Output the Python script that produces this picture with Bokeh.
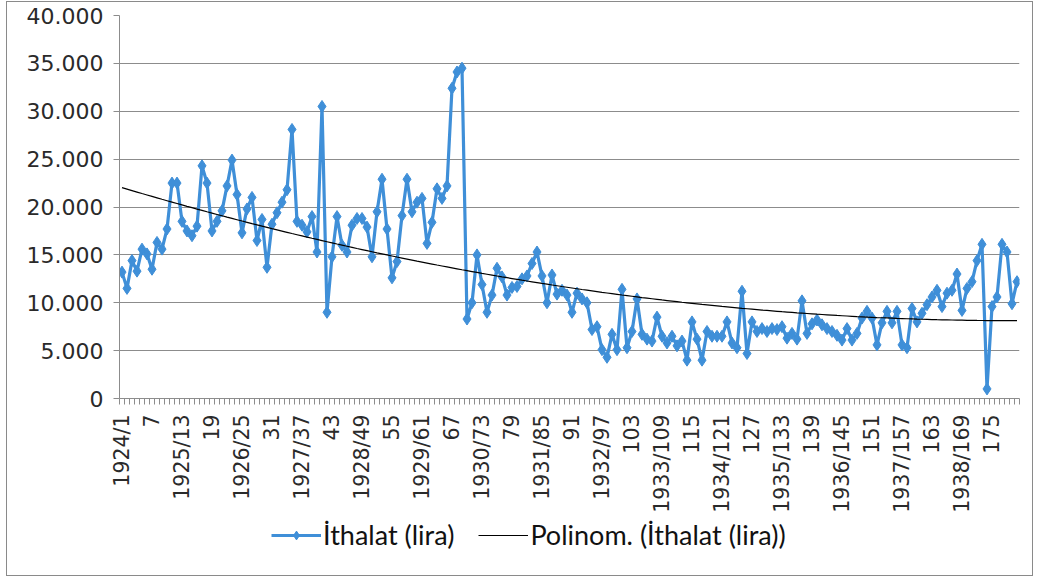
import math
import numpy as np
from bokeh.plotting import figure
from bokeh.layouts import column
from bokeh.models import Range1d, FixedTicker, Legend, LegendItem
from bokeh.embed import file_html
from bokeh.resources import INLINE

# ---- data ----
months = list(range(1, 181))
imports_lira = [
    13200, 11500, 14400, 13300, 15600, 15100, 13500, 16300, 15600, 17700,
    22500, 22500, 18500, 17500, 17000, 18000, 24300, 22500, 17500, 18500,
    19600, 22200, 24900, 21300, 17300, 19800, 21000, 16500, 18700, 13700,
    18200, 19400, 20500, 21800, 28100, 18500, 18100, 17400, 19000, 15300,
    30500, 9000, 14800, 19000, 16000, 15300, 18100, 18800, 18800, 17900,
    14800, 19500, 22900, 17700, 12600, 14300, 19100, 22900, 19500, 20500,
    20900, 16200, 18400, 21900, 20900, 22200, 32400, 34100, 34500, 8300,
    10000, 15000, 11900, 9000, 10800, 13600, 12700, 10800, 11600, 11700,
    12500, 12800, 14100, 15300, 12800, 10000, 12900, 10900, 11300, 10800,
    9000, 11000, 10400, 10000, 7200, 7500, 5100, 4300, 6700, 5100,
    11400, 5300, 7000, 10400, 6700, 6200, 6000, 8500, 6500, 5800,
    6500, 5500, 6000, 4000, 8000, 6200, 4000, 7000, 6500, 6500,
    6500, 8000, 5800, 5300, 11200, 4700, 8000, 7000, 7300, 7000,
    7300, 7200, 7500, 6300, 6800, 6200, 10200, 6800, 7800, 8200,
    7700, 7300, 7000, 6600, 6100, 7300, 6100, 6800, 8400, 9100,
    8400, 5600, 7900, 9100, 7900, 9100, 5600, 5300, 9400, 8000,
    8900, 9800, 10600, 11300, 9600, 11000, 11300, 13000, 9200, 11500,
    12200, 14400, 16100, 1000, 9600, 10600, 16100, 15300, 9900, 12200,
]
x_tick_positions = list(range(1, 181, 6))
x_tick_labels = [
    "1924/1", "7", "1925/13", "19", "1926/25", "31", "1927/37", "43",
    "1928/49", "55", "1929/61", "67", "1930/73", "79", "1931/85", "91",
    "1932/97", "103", "1933/109", "115", "1934/121", "127", "1935/133", "139",
    "1936/145", "151", "1937/157", "163", "1938/169", "175",
]
y_ticks = [0, 5000, 10000, 15000, 20000, 25000, 30000, 35000, 40000]
y_tick_labels = ["0", "5.000", "10.000", "15.000", "20.000", "25.000",
                 "30.000", "35.000", "40.000"]
series_name = "İthalat (lira)"
trend_name = "Polinom. (İthalat (lira))"

# polynomial (order 2) trend line from the data
coef = np.polyfit(np.array(months, dtype=float), np.array(imports_lira, dtype=float), 2)
trend = np.polyval(coef, np.array(months, dtype=float))

line_color = "#3f8fd8"

p = figure(width=1025, height=513, output_backend="svg", toolbar_location=None,
           x_range=Range1d(0.5, 180.5), y_range=Range1d(0, 40000),
           min_border_left=112, min_border_right=13, min_border_top=13,
           min_border_bottom=113)
p.outline_line_color = None
p.background_fill_color = "white"
p.border_fill_color = "white"

p.xgrid.grid_line_color = None
p.ygrid.grid_line_color = "#8c8c8c"
p.ygrid.grid_line_width = 1
p.ygrid.ticker = FixedTicker(ticks=y_ticks)

# y axis
p.yaxis.ticker = FixedTicker(ticks=y_ticks)
p.yaxis.major_label_overrides = dict(zip(y_ticks, y_tick_labels))
p.yaxis.major_label_text_font = "DejaVu Sans"
p.yaxis.major_label_text_font_size = "22px"
p.yaxis.major_label_text_color = "#2a2a2a"
p.yaxis.axis_line_color = "#8c8c8c"
p.yaxis.major_tick_line_color = "#8c8c8c"
p.yaxis.major_tick_out = 6
p.yaxis.major_tick_in = 0
p.yaxis.minor_tick_line_color = None
p.yaxis.major_label_standoff = 10

# x axis
p.xaxis.ticker = FixedTicker(ticks=x_tick_positions,
                             minor_ticks=[m + 0.5 for m in range(0, 181)])
p.xaxis.major_label_overrides = dict(zip(x_tick_positions, x_tick_labels))
p.xaxis.major_label_orientation = math.pi / 2
p.xaxis.major_label_text_font = "DejaVu Sans"
p.xaxis.major_label_text_font_size = "20.5px"
p.xaxis.major_label_text_color = "#2a2a2a"
p.xaxis.axis_line_color = "#8c8c8c"
p.xaxis.major_tick_line_color = None
p.xaxis.minor_tick_line_color = "#8c8c8c"
p.xaxis.minor_tick_out = 6
p.xaxis.minor_tick_in = 0
p.xaxis.major_label_standoff = 10

p.line(months, imports_lira, line_color=line_color, line_width=3.2)
p.scatter(months, imports_lira, marker="diamond", size=12,
          fill_color=line_color, line_color=line_color)
p.line(months, trend, line_color="black", line_width=1.2)

# legend strip below the chart (legend proxies use the same data, hidden)
lf = figure(width=1025, height=60, output_backend="svg", toolbar_location=None,
            x_range=Range1d(0.5, 180.5), y_range=Range1d(0, 40000),
            x_axis_location=None, y_axis_location=None,
            min_border_left=0, min_border_right=0, min_border_top=0,
            min_border_bottom=0)
lf.outline_line_color = None
lf.xgrid.grid_line_color = None
lf.ygrid.grid_line_color = None
lf.background_fill_color = "white"
lf.border_fill_color = "white"
d_line = lf.line(months, imports_lira, line_color=line_color, line_width=3.2,
                 visible=False)
d_pts = lf.scatter(months, imports_lira, marker="diamond", size=12,
                   fill_color=line_color, line_color=line_color, visible=False)
d_trend = lf.line(months, trend, line_color="black", line_width=1.2, visible=False)

legend = Legend(items=[LegendItem(label=series_name, renderers=[d_line, d_pts]),
                       LegendItem(label=trend_name, renderers=[d_trend])],
                orientation="horizontal", location=(152, 24),
                label_text_font="Lato", label_text_font_size="27px",
                label_text_color="#111111", glyph_width=50, glyph_height=22,
                spacing=24, border_line_color=None, background_fill_alpha=0,
                inactive_fill_alpha=0, label_standoff=2, margin=0, padding=4)
lf.add_layout(legend, "center")

layout = column(p, lf, spacing=0,
                styles={"border": "1px solid #8a8a8a", "margin-left": "6px",
                        "margin-top": "1px"})

open("out.html", "w").write(file_html(layout, INLINE))
